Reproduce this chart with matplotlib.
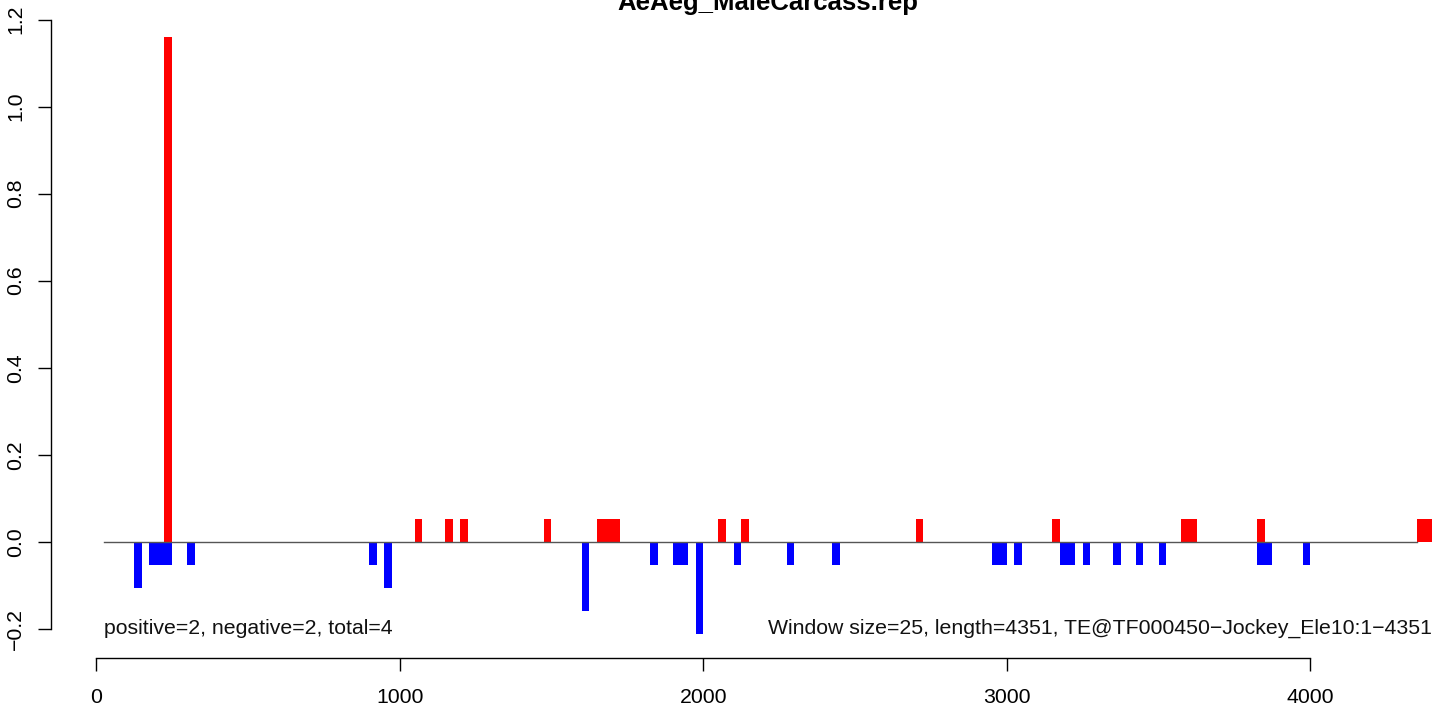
import matplotlib
matplotlib.use("Agg")
import matplotlib.pyplot as plt

# ---- data ----
title = "AeAeg_MaleCarcass.rep"
window = 25
pos_starts = [225, 1050, 1150, 1200, 1475, 1650, 1675, 1700, 2050, 2125,
              2700, 3150, 3575, 3600, 3825, 4350, 4375]
pos_values = [1.161, 0.052, 0.052, 0.052, 0.052, 0.052, 0.052, 0.052, 0.052, 0.052,
              0.052, 0.052, 0.052, 0.052, 0.052, 0.052, 0.052]
neg_starts = [125, 175, 200, 225, 300, 900, 950, 1600, 1825, 1900, 1925, 1975,
              2100, 2275, 2425, 2950, 2975, 3025, 3175, 3200, 3250, 3350, 3425,
              3500, 3825, 3850, 3975]
neg_values = [-0.107, -0.053, -0.053, -0.053, -0.053, -0.053, -0.107, -0.160,
              -0.053, -0.053, -0.053, -0.213, -0.053, -0.053, -0.053, -0.053,
              -0.053, -0.053, -0.053, -0.053, -0.053, -0.053, -0.053, -0.053,
              -0.053, -0.053, -0.053]
seq_start, seq_len = 25, 4351
x_ticks = [0, 1000, 2000, 3000, 4000]
y_ticks = [-0.2, 0.0, 0.2, 0.4, 0.6, 0.8, 1.0, 1.2]
left_note = "positive=2, negative=2, total=4"
right_note = "Window size=25, length=4351, TE@TF000450\u2212Jockey_Ele10:1\u22124351"

plt.rcParams['font.family'] = ['Liberation Sans', 'DejaVu Sans']
fs = 15.3

W, H = 1444, 709
fig = plt.figure(figsize=(W / 100, H / 100), dpi=100)
# plot region in pixels
px_left, px_right, px_top, px_bottom = 51, 1444, 12.7, 658.3
ax = fig.add_axes([px_left / W, 1 - px_bottom / H, (px_right - px_left) / W,
                   (px_bottom - px_top) / H])
ax.set_xlim(-148.2, 4440.0)
ax.set_ylim(-0.268, 1.216)

ax.bar(neg_starts, neg_values, width=window, align='edge', color='#0000FF',
       linewidth=0)
ax.bar(pos_starts, pos_values, width=window, align='edge', color='#FF0000',
       linewidth=0)
ax.plot([seq_start, seq_len], [0, 0], color='#555555', lw=1.0, zorder=3)

for s in ['top', 'right']:
    ax.spines[s].set_visible(False)
ax.spines['bottom'].set_bounds(x_ticks[0], x_ticks[-1])
ax.spines['left'].set_bounds(y_ticks[0], y_ticks[-1])
for s in ['bottom', 'left']:
    ax.spines[s].set_linewidth(1.0)
    ax.spines[s].set_color('black')

ax.set_xticks(x_ticks)
ax.set_xticklabels([str(t) for t in x_ticks])
ax.set_yticks(y_ticks)
ax.set_yticklabels(["\u22120.2" if t < 0 else f"{t:.1f}" for t in y_ticks])
ax.tick_params(axis='both', direction='out', length=9.4, width=1.0,
               labelsize=fs, colors='black')
ax.tick_params(axis='x', pad=12)
ax.tick_params(axis='y', pad=9)
for lab in ax.get_yticklabels():
    lab.set_rotation(90)
    lab.set_va('center')
    lab.set_ha('right')

ax.text(seq_start, -0.2, left_note, ha='left', va='center', fontsize=fs,
        color='#111111')
ax.text(4400, -0.2, right_note, ha='right', va='center', fontsize=fs,
        color='#111111')

fig.text(768 / W, 1 - 10 / H, title, ha='center', va='baseline',
         fontsize=18.5, fontweight='bold')

fig.savefig("out.png", dpi=100)
